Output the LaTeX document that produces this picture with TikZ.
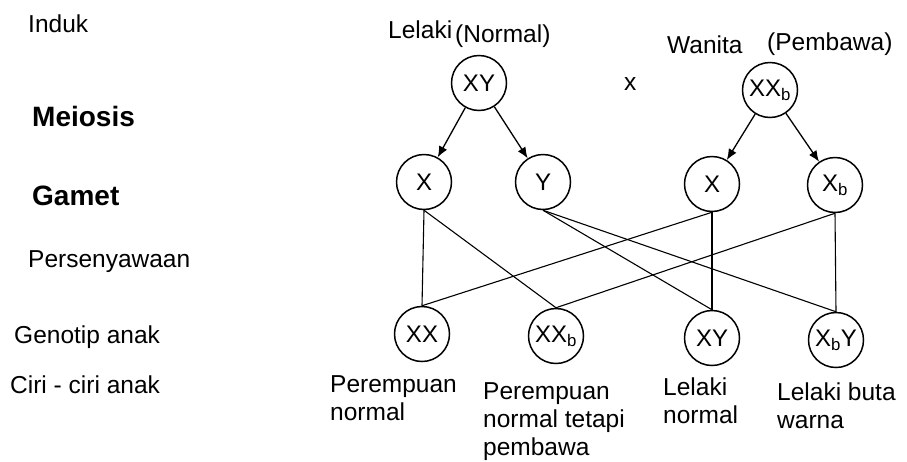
\documentclass[tikz,border=0pt]{standalone}
\usepackage{fontspec}
\setmainfont{Liberation Sans}
\usetikzlibrary{positioning,arrows.meta}

\begin{document}
\begin{tikzpicture}[x=1pt,y=-1pt,
  gen/.style={circle,draw,line width=1.5pt,minimum size=55pt,inner sep=0pt,font=\fontsize{24}{24}\selectfont},
  txt/.style={anchor=base west,inner sep=0pt,font=\fontsize{24.5}{28}\selectfont},
  ciri/.style={anchor=north west,inner sep=0pt,align=left,font=\fontsize{24.5}{28}\selectfont},
  tahap/.style={txt,font=\fontsize{28}{28}\selectfont\bfseries}]
  \useasboundingbox (0,0) rectangle (907,461);

  % tahap di kiri
  \node[txt] (induk) at (28,32) {Induk};
  \node[tahap] (meiosis) at (32,126) {Meiosis};
  \node[tahap] (gamet) at (32,205) {Gamet};
  \node[txt] (senyawa) at (28,267) {Persenyawaan};
  \node[txt] (genotip) at (14,343) {Genotip anak};
  \node[txt] (ciri) at (10,393) {Ciri - ciri anak};

  % induk
  \node[gen] (ayah) at (479,83) {XY};
  \node[gen] (ibu) at (770,90) {XX\textsubscript{b}};
  \node[txt] (lelaki) at (388,38) {Lelaki};
  \node[txt] (normal) at (455,42) {(Normal)};
  \node[txt] (wanita) at (667,53) {Wanita};
  \node[txt] (pembawa) at (767,50) {(Pembawa)};
  \node[txt] (kali) at (624,90) {x};

  % gamet
  \node[gen] (g1) at (424,182) {X};
  \node[gen] (g2) at (543,182) {Y};
  \node[gen] (g3) at (712,184) {X};
  \node[gen] (g4) at (835,185) {X\textsubscript{b}};

  % anak
  \node[gen] (a1) at (422,334) {XX};
  \node[gen] (a2) at (556,336) {XX\textsubscript{b}};
  \node[gen] (a3) at (712,338) {XY};
  \node[gen] (a4) at (836,340) {X\textsubscript{b}Y};

  \node[ciri] (c1) at (330,375) {Perempuan\\normal};
  \node[ciri] (c2) at (483,382) {Perempuan\\normal tetapi\\pembawa};
  \node[ciri] (c3) at (663,378) {Lelaki\\normal};
  \node[ciri] (c4) at (777,383) {Lelaki buta\\warna};

  \foreach \p/\g in {ayah/g1,ayah/g2,ibu/g3,ibu/g4} \draw[-{Latex[length=11pt,width=9pt]},line width=1.3pt] (\p) -- (\g);
  \foreach \g/\a in {g1/a1,g1/a2,g2/a3,g2/a4,g3/a1,g3/a3,g4/a2,g4/a4} \draw[line width=1.1pt] (\g.south) -- (\a.north);

\end{tikzpicture}
\end{document}
